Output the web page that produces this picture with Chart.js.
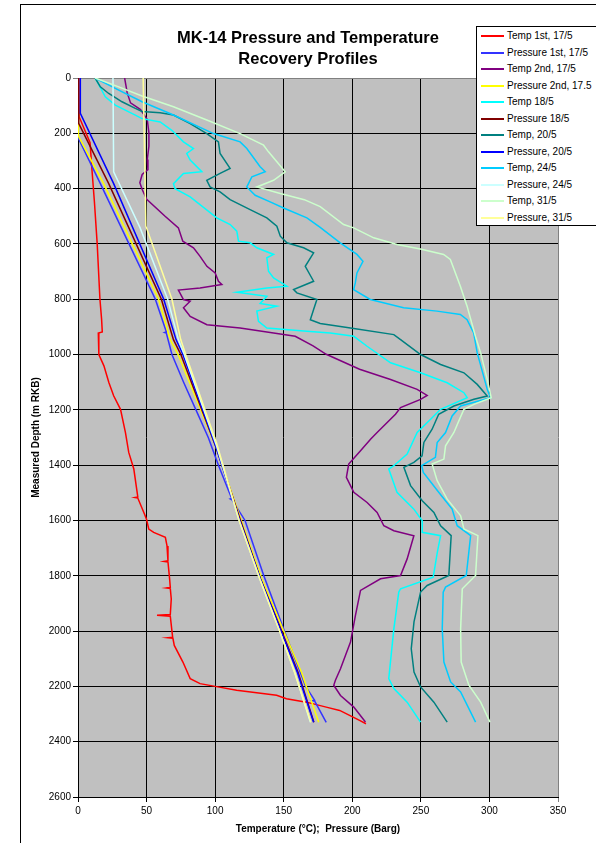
<!DOCTYPE html>
<html>
<head>
<meta charset="utf-8">
<title>MK-14 Pressure and Temperature Recovery Profiles</title>
<script src="https://cdn.jsdelivr.net/npm/chart.js@4.4.0/dist/chart.umd.min.js"></script>
<style>
  html, body { margin: 0; padding: 0; background: #fff; overflow: hidden; }
  body { width: 596px; height: 843px; position: relative; font-family: "Liberation Sans", Arial, sans-serif; }
  #frame { position: absolute; left: 20px; top: 4px; width: 640px; height: 900px; border: 1px solid #000; }
  #wrap { position: absolute; left: 0; top: 0; width: 596px; height: 843px; }
  #title { position: absolute; left: 20px; width: 576px; top: 27px; text-align: center;
           font-weight: bold; font-size: 16.5px; line-height: 21px; color: #000; }
  #legend { position: absolute; left: 476px; top: 26px; width: 140px; height: 198px;
            border: 1px solid #000; background: #fff; }
  .row { position: absolute; left: 0; width: 140px; height: 14px; font-size: 10px; line-height: 14px; white-space: nowrap; color: #000; }
  .row i { position: absolute; left: 4px; top: 6px; width: 23px; height: 2px; }
  .row span { position: absolute; left: 30px; top: 0; }
</style>
</head>
<body>
<div id="frame"></div>
<div id="wrap"><canvas id="myChart" width="596" height="843"></canvas></div>
<div id="title">MK-14 Pressure and Temperature<br>Recovery Profiles</div>
<div id="legend"></div>
<script>
// series names + colours, in legend order
var seriesLabels = [
  "Temp 1st, 17/5", "Pressure 1st, 17/5", "Temp 2nd, 17/5", "Pressure 2nd, 17.5",
  "Temp 18/5", "Pressure 18/5", "Temp, 20/5", "Pressure, 20/5",
  "Temp, 24/5", "Pressure, 24/5", "Temp, 31/5", "Pressure, 31/5"
];
var seriesColors = [
  "#ff0000", "#3333ff", "#800080", "#ffff00",
  "#00ffff", "#800000", "#008080", "#0000ff",
  "#00ccff", "#ccffff", "#ccffcc", "#ffff99"
];

var xTicks = [0, 50, 100, 150, 200, 250, 300, 350];
var yTicks = [0, 200, 400, 600, 800, 1000, 1200, 1400, 1600, 1800, 2000, 2200, 2400, 2600];

// each point: [temperature or pressure, depth]
var temp1st = [[0.5,0],[0.8,140],[8.8,234],[10.2,333],[12,450],[14,600],[16,800],[17.2,872],[17.7,918],[14.8,922],[15.2,1000],
  [18.9,1041],[22.5,1101],[26,1149],[31,1198],[34.6,1282],[37,1354],[40.7,1414],[43.6,1515],[41.5,1517],[43.6,1519],[48,1571],
  [49.9,1595],[51.6,1631],[55.2,1643],[63.7,1661],[64.9,1692],[65.6,1746],[63,1748],[65.6,1750],[66.8,1811],[67.3,1842],
  [64.5,1844],[67.3,1846],[68,1884],[67.3,1940],[57.6,1943],[67.3,1946],[68.5,2000],[69,2022],[65.5,2024],[69.2,2026],
  [70.2,2052],[76.5,2112],[81.8,2172],[89,2190],[100,2200],[115.7,2214],[144.8,2232],[152,2245],[166.6,2257],[181,2275],
  [190.8,2287],[205.3,2323],[210,2335]];
var press1st = [[0,0],[0,215],[16.3,382],[56.4,800],[64.4,918],[63.2,920],[64.4,922],[68.5,1000],[77,1100],[86,1200],[95,1300],
  [102.4,1400],[112,1520],[111,1522],[112.2,1525],[121.8,1600],[135.5,1800],[150.5,2000],[166,2200],[172.5,2250],[171,2252],
  [172.7,2254],[181,2330]];
var temp2nd = [[34,0],[35.9,54],[38.3,90],[45.6,114],[50.5,150],[51.7,198],[51.7,247],[50.5,295],[51,331],[46.8,349],[45.1,379],
  [46.8,403],[50.1,439],[63.5,500],[73.2,542],[76.4,590],[84.2,614],[89,645],[94,681],[100,705],[102.4,735],[104.9,747],[89,759],
  [73.2,767],[76.9,801],[81.8,807],[76.9,831],[81.8,862],[94,892],[118.2,904],[142.6,922],[158.4,934],[171.4,969],[181,999],
  [205.3,1053],[227.9,1090],[247.3,1126],[254.6,1148],[249.8,1162],[235.2,1192],[231.5,1216],[218.1,1282],[213.3,1306],
  [206,1348],[197.4,1396],[195.7,1444],[201.1,1498],[210.8,1535],[218.1,1571],[223,1619],[230.3,1637],[244.9,1655],[240,1739],
  [235.2,1799],[220.6,1811],[206,1853],[202.3,1943],[198.7,2040],[195,2088],[191.4,2136],[187.7,2178],[186.5,2196],[191.4,2233],
  [201.1,2275],[209.6,2329]];
var press2nd = [[0.3,0],[0.3,210],[18.7,382],[58.8,800],[67.3,946],[73,1000],[101,1340],[119,1600],[134,1811],[150,2000],
  [163,2150],[175.5,2330]];
var temp18 = [[12.5,0],[19.9,68],[27.2,98],[41.8,134],[46.7,147],[59.9,159],[68.4,189],[76.9,231],[84.2,255],[79.3,273],
  [81.8,297],[90.3,339],[76.9,345],[69.6,382],[70.8,400],[81.8,430],[101.2,506],[111,530],[115.8,554],[117,590],[125.5,596],
  [130.4,614],[142.6,638],[137.7,650],[138.9,699],[142.6,723],[152.3,753],[137.7,759],[115.8,775],[137.7,789],[132.8,815],
  [145,825],[130.4,843],[131.6,880],[137.7,904],[166.9,916],[183.9,922],[201.1,934],[210.8,970],[227.9,1030],[249.8,1066],
  [269.2,1102],[281.4,1138],[283.8,1156],[264.4,1198],[257.1,1234],[247.3,1282],[240,1360],[230.3,1402],[226.6,1414],
  [232.6,1498],[244.9,1559],[251,1601],[251,1643],[264.4,1655],[262,1715],[259,1805],[235.2,1847],[233.9,1859],[230.3,1992],
  [226.6,2172],[230.3,2208],[240,2257],[249.8,2329]];
var press18 = [[0.5,0],[0.5,164],[22.4,382],[60.8,800],[69.6,946],[75,1000],[101,1340],[118.5,1600],[133,1811],[148.5,2000],
  [160.5,2150],[172,2330]];
var temp20 = [[12.5,0],[16.3,32],[22.4,56],[32.1,86],[41.8,110],[46.7,121],[59.9,126],[69.6,134],[81.8,165],[93.9,201],
  [102.4,231],[103.6,273],[110.9,327],[103.6,345],[93.9,370],[96.3,394],[103.6,412],[110.9,440],[125.5,476],[137.7,506],
  [145,536],[147.5,572],[152.3,596],[164.5,614],[171.8,632],[165.7,681],[171.8,735],[157.2,765],[159.6,777],[174.2,801],
  [171.8,837],[169.4,874],[176.6,888],[198.7,904],[230.3,928],[235.2,946],[249.8,1000],[264.4,1036],[281.4,1066],[291.1,1108],
  [298.4,1150],[288.7,1162],[274.1,1186],[263,1216],[258.2,1270],[252.2,1318],[250.9,1366],[244.9,1390],[237.6,1408],
  [242.5,1474],[251,1529],[259.5,1571],[264.4,1619],[272.1,1655],[270.4,1799],[254.6,1835],[249.8,1859],[245,1967],[243,2064],
  [245,2148],[249.8,2202],[259.5,2257],[269.2,2329]];
var press20 = [[1.7,0],[1.7,128],[26,382],[62.5,800],[71.5,946],[76.5,1000],[101,1340],[118,1600],[133,1811],[148,2000],
  [160,2150],[171.8,2330]];
var temp24 = [[12.5,0],[29.7,44],[46.7,86],[69.6,134],[98.8,201],[118.2,231],[123.1,255],[132.8,321],[136.5,339],[126.8,357],
  [123.1,394],[129.2,424],[140.1,448],[149.9,470],[166.9,506],[176.6,540],[191.2,596],[203.4,638],[207.8,663],[203.4,705],
  [202.2,741],[201,765],[213.1,801],[237.4,831],[261.8,843],[278.8,855],[283.7,874],[288.5,922],[291.1,994],[298.4,1126],
  [300.8,1156],[279,1186],[272.8,1222],[268,1282],[261.9,1318],[260.6,1372],[250.6,1402],[251.8,1426],[263,1498],[272.8,1559],
  [276.5,1619],[286.3,1655],[283.1,1799],[268,1841],[266.3,1859],[265.6,1992],[266.8,2112],[271.7,2184],[279,2220],[289.9,2329]];
var press24 = [[25.5,0],[26,339],[45.3,542],[65.4,800],[73.2,946],[77.5,1000],[101,1330],[117.5,1600],[132.5,1811],[147,2000],
  [158,2150],[169.5,2330]];
var temp31 = [[12.5,0],[29.7,32],[46.7,65],[69.6,104],[93.9,152],[118.2,201],[135.3,243],[138.9,267],[145,303],[151.1,339],
  [142.6,370],[130.4,394],[147.5,418],[165,440],[176.6,465],[193.7,530],[201,542],[215.6,578],[232.6,602],[249.6,618],
  [266.6,638],[271.5,656],[278.8,753],[283.7,825],[289.8,934],[293.6,994],[298.4,1090],[301.3,1156],[288.7,1180],[281.4,1198],
  [277.7,1240],[274.1,1282],[268,1330],[266.8,1378],[258.2,1396],[261.9,1456],[269.2,1523],[279,1583],[281.4,1631],[291.6,1655],
  [289.9,1799],[280.2,1847],[279,1992],[279.4,2112],[285,2196],[293.6,2257],[300.4,2329]];
var press31 = [[47.5,0],[49.5,536],[68.5,800],[74.9,946],[78.5,1000],[101,1320],[117.5,1600],[132.5,1811],[147,2000],
  [158,2150],[169.8,2330]];

var allSeries = [temp1st, press1st, temp2nd, press2nd, temp18, press18, temp20, press20, temp24, press24, temp31, press31];

var FONT = "'Liberation Sans', Arial, sans-serif";

var datasets = allSeries.map(function (pts, i) {
  return {
    label: seriesLabels[i],
    data: pts.map(function (p) { return { x: p[0], y: p[1] }; }),
    borderColor: seriesColors[i],
    backgroundColor: seriesColors[i],
    borderWidth: 1.5,
    showLine: true,
    pointRadius: 0,
    tension: 0,
    order: allSeries.length - i // later series drawn on top, like the original
  };
});

// grey plot area
var plotBg = {
  id: "plotBg",
  beforeDraw: function (chart) {
    var a = chart.chartArea;
    var ctx = chart.ctx;
    ctx.save();
    ctx.fillStyle = "#c0c0c0";
    ctx.fillRect(a.left, a.top, a.right - a.left, a.bottom - a.top);
    ctx.restore();
  }
};

var config = {
  type: "scatter",
  data: { datasets: datasets },
  plugins: [plotBg],
  options: {
    responsive: false,
    animation: false,
    devicePixelRatio: 1,
    layout: { padding: { top: 78, right: 38, bottom: 0, left: 0 } },
    plugins: { legend: { display: false }, tooltip: { enabled: false } },
    scales: {
      x: {
        type: "linear",
        min: 0,
        max: 350,
        afterBuildTicks: function (s) { s.ticks = xTicks.map(function (v) { return { value: v }; }); },
        ticks: {
          color: "#000", font: { size: 10, family: FONT }, padding: 3, maxRotation: 0,
          callback: function (v) { return String(v); }
        },
        grid: {
          color: function (c) { return c.tick && c.tick.value === 350 ? "#808080" : "#000"; },
          lineWidth: 1,
          tickLength: 5
        },
        border: { color: "#000", width: 1 },
        title: {
          display: true,
          text: "Temperature (°C);  Pressure (Barg)",
          color: "#000",
          font: { size: 10, weight: "bold", family: FONT },
          padding: { top: 0, bottom: 8 }
        },
        afterFit: function (s) { s.height = 46; }
      },
      y: {
        type: "linear",
        reverse: true,
        min: 0,
        max: 2600,
        afterBuildTicks: function (s) { s.ticks = yTicks.map(function (v) { return { value: v }; }); },
        ticks: {
          color: "#000", font: { size: 10, family: FONT }, padding: 2,
          callback: function (v) { return String(v); }
        },
        grid: {
          color: function (c) { return c.tick && c.tick.value === 0 ? "#808080" : "#000"; },
          lineWidth: 1,
          tickLength: 5
        },
        border: { color: "#000", width: 1 },
        title: {
          display: true,
          text: "Measured Depth (m RKB)",
          color: "#000",
          font: { size: 10, weight: "bold", family: FONT },
          padding: { top: 30, bottom: 0 }
        },
        afterFit: function (s) { s.width = 78; }
      }
    }
  }
};

var myChart = new Chart(document.getElementById("myChart"), config);

// legend box drawn over the top right of the plot
var legend = document.getElementById("legend");
seriesLabels.forEach(function (name, i) {
  var row = document.createElement("div");
  row.className = "row";
  row.style.top = (2 + i * 16.5) + "px";
  var line = document.createElement("i");
  line.style.background = seriesColors[i];
  var txt = document.createElement("span");
  txt.textContent = name;
  row.appendChild(line);
  row.appendChild(txt);
  legend.appendChild(row);
});
</script>
</body>
</html>
